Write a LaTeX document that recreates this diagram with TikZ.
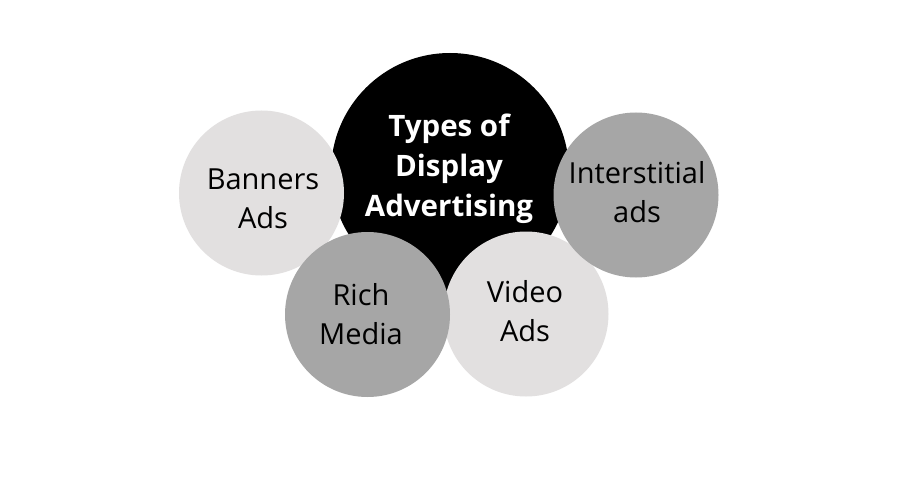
\documentclass[tikz,border=0pt]{standalone}
\usepackage{fontspec}
\setmainfont{Open Sans}
\definecolor{lightc}{HTML}{E2E0E0}
\definecolor{midc}{HTML}{A6A6A6}
\tikzset{
  bubble/.style={circle, inner sep=0pt, minimum size=#1},
  lbl/.style={align=center, inner sep=0pt, font=\fontsize{29}{39}\selectfont, text=black},
  title/.style={font=\bfseries\fontsize{29.5}{40}\selectfont, text=white, align=center, inner sep=0pt}
}
\begin{document}
\begin{tikzpicture}[x=1pt,y=-1pt]
\useasboundingbox[fill=white] (0,0) rectangle (900,500);
\node[bubble=238pt, fill=black] (core) at (450,172) {};
\node[bubble=165pt, fill=lightc] (video) at (526,314) {};
\node[bubble=165pt, fill=midc] (inter) at (636,195) {};
\node[bubble=165pt, fill=lightc] (banner) at (261.5,193) {};
\node[bubble=165pt, fill=midc] (rich) at (367.5,314.5) {};
\node[title] (t) at (449,169) {Types of\\Display\\Advertising};
\node[lbl] (tb) at (263,199) {Banners\\Ads};
\node[lbl] (ti) at (637,192) {Interstitial\\ads};
\node[lbl] (tr) at (361,314) {Rich\\Media};
\node[lbl] (tv) at (525,311) {Video\\Ads};
\end{tikzpicture}
\end{document}
